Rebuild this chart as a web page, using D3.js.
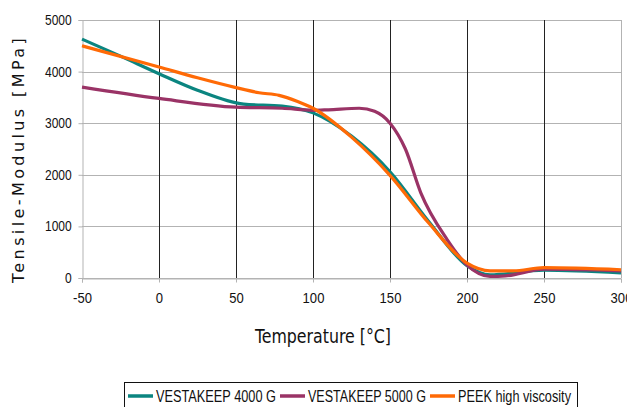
<!DOCTYPE html>
<html>
<head>
<meta charset="utf-8">
<script src="https://cdn.jsdelivr.net/npm/d3@7"></script>
<style>
body{margin:0;background:#fff;}
text{font-family:"Liberation Sans",sans-serif;}
</style>
</head>
<body>
<svg id="chart" width="627" height="407"></svg>
<script>
// temperatures [°C]
var temps4000 = [-50, -25, 0, 25, 55, 80, 100, 125, 150, 175, 200, 215, 250, 300];
var vals4000  = [4630, 4300, 3960, 3640, 3370, 3330, 3200, 2750, 2060, 1100, 240, 60, 150, 100];

var temps5000 = [-50, 0, 50, 80, 100, 110, 130, 140, 150, 160, 170, 187, 200, 215, 225, 250, 300];
var vals5000  = [3700, 3480, 3310, 3290, 3250, 3260, 3290, 3230, 3000, 2500, 1650, 750, 250, 30, 40, 170, 140];

var tempsPeek = [-50, 0, 25, 50, 65, 78, 90, 100, 125, 150, 175, 200, 215, 230, 250, 300];
var valsPeek  = [4500, 4090, 3880, 3690, 3590, 3540, 3420, 3290, 2730, 1990, 1070, 290, 140, 140, 200, 160];

var xTicks = [-50, 0, 50, 100, 150, 200, 250, 300];
var yTicks = [0, 1000, 2000, 3000, 4000, 5000];

var series = [
	{name: "VESTAKEEP 4000 G", color: "#0b8580", t: temps4000, v: vals4000},
	{name: "VESTAKEEP 5000 G", color: "#9a3366", t: temps5000, v: vals5000},
	{name: "PEEK high viscosity", color: "#ff6a06", t: tempsPeek, v: valsPeek}
];

var svg = d3.select("#chart");
var pL = 82, pR = 621, pT = 20, pB = 278;

var x = d3.scaleLinear().domain([-50, 300]).range([pL, pR]);
var y = d3.scaleLinear().domain([0, 5000]).range([pB, pT]);

// grid
var g = svg.append("g");
g.selectAll(".hg").data(yTicks).enter().append("line")
	.attr("x1", pL).attr("x2", pR)
	.attr("y1", function(d){ return Math.round(y(d))+0.5; }).attr("y2", function(d){ return Math.round(y(d))+0.5; })
	.style("stroke", "#b3b3b3").style("stroke-width", 1);
g.selectAll(".vg").data(xTicks.slice(1, -1)).enter().append("line")
	.attr("x1", function(d){ return Math.round(x(d))+0.5; }).attr("x2", function(d){ return Math.round(x(d))+0.5; })
	.attr("y1", pT).attr("y2", pB)
	.style("stroke", "#222").style("stroke-width", 1);
// right border
g.append("line").attr("x1", pR+0.5).attr("x2", pR+0.5).attr("y1", pT).attr("y2", pB)
	.style("stroke", "#b3b3b3");

// axes
var fmt = function(d){ return String(d); };
var xAxis = d3.axisBottom(x).tickValues(xTicks).tickSize(4).tickPadding(10).tickFormat(fmt);
var yAxis = d3.axisLeft(y).tickValues(yTicks).tickSize(4).tickPadding(4).tickFormat(fmt);

var gx = svg.append("g").attr("transform", "translate(0," + (pB+0.5) + ")").call(xAxis);
var gy = svg.append("g").attr("transform", "translate(" + (pL+0.5) + ",0)").call(yAxis);
[gx, gy].forEach(function(a){
	a.select(".domain").style("stroke", "#b3b3b3");
	a.selectAll(".tick line").style("stroke", "#b3b3b3");
	a.selectAll("text").style("fill", "#111")
		.style("font-family", "'Liberation Sans', sans-serif");
});
// squeeze tick labels like a narrow font
gx.selectAll(".tick text").style("font-size", "15px").attr("transform", "scale(0.87,1)");
gy.selectAll(".tick text").style("font-size", "14px").attr("transform", "translate(-3.9,0) scale(0.86,1)");

// lines
var line = d3.line()
	.x(function(d){ return x(d[0]); })
	.y(function(d){ return y(d[1]); })
	.curve(d3.curveMonotoneX);

series.forEach(function(s){
	var pts = s.t.map(function(t, i){ return [t, s.v[i]]; });
	svg.append("path").datum(pts)
		.attr("d", line)
		.style("fill", "none")
		.style("stroke", s.color)
		.style("stroke-width", 3.2)
		.style("stroke-linejoin", "round");
});

// titles
svg.append("text")
	.attr("x", 255).attr("y", 343)
	.attr("textLength", 136).attr("lengthAdjust", "spacingAndGlyphs")
	.style("font-family", "'DejaVu Sans Condensed','DejaVu Sans',sans-serif")
	.style("font-size", "20px").style("fill", "#111")
	.text("Temperature [°C]");

svg.append("text")
	.attr("transform", "translate(24,159) rotate(-90)")
	.attr("text-anchor", "middle")
	.style("font-family", "'DejaVu Sans',sans-serif")
	.style("font-size", "16px").style("fill", "#111")
	.style("letter-spacing", "3.4px")
	.text("Tensile-Modulus [MPa]");

// legend
var lg = svg.append("g");
lg.append("rect").attr("x", 124.5).attr("y", 382.5).attr("width", 453).attr("height", 30)
	.style("fill", "#fff").style("stroke", "#111");
var lx = [128, 280, 430];
var lw = [120, 118, 113];
series.forEach(function(s, i){
	lg.append("line").attr("x1", lx[i]).attr("x2", lx[i]+25).attr("y1", 396).attr("y2", 396)
		.style("stroke", s.color).style("stroke-width", 3.5);
	lg.append("text").attr("x", lx[i]+28).attr("y", 402)
		.attr("textLength", lw[i]).attr("lengthAdjust", "spacingAndGlyphs")
		.style("font-size", "16px").style("fill", "#111")
		.text(s.name);
});
</script>
</body>
</html>
